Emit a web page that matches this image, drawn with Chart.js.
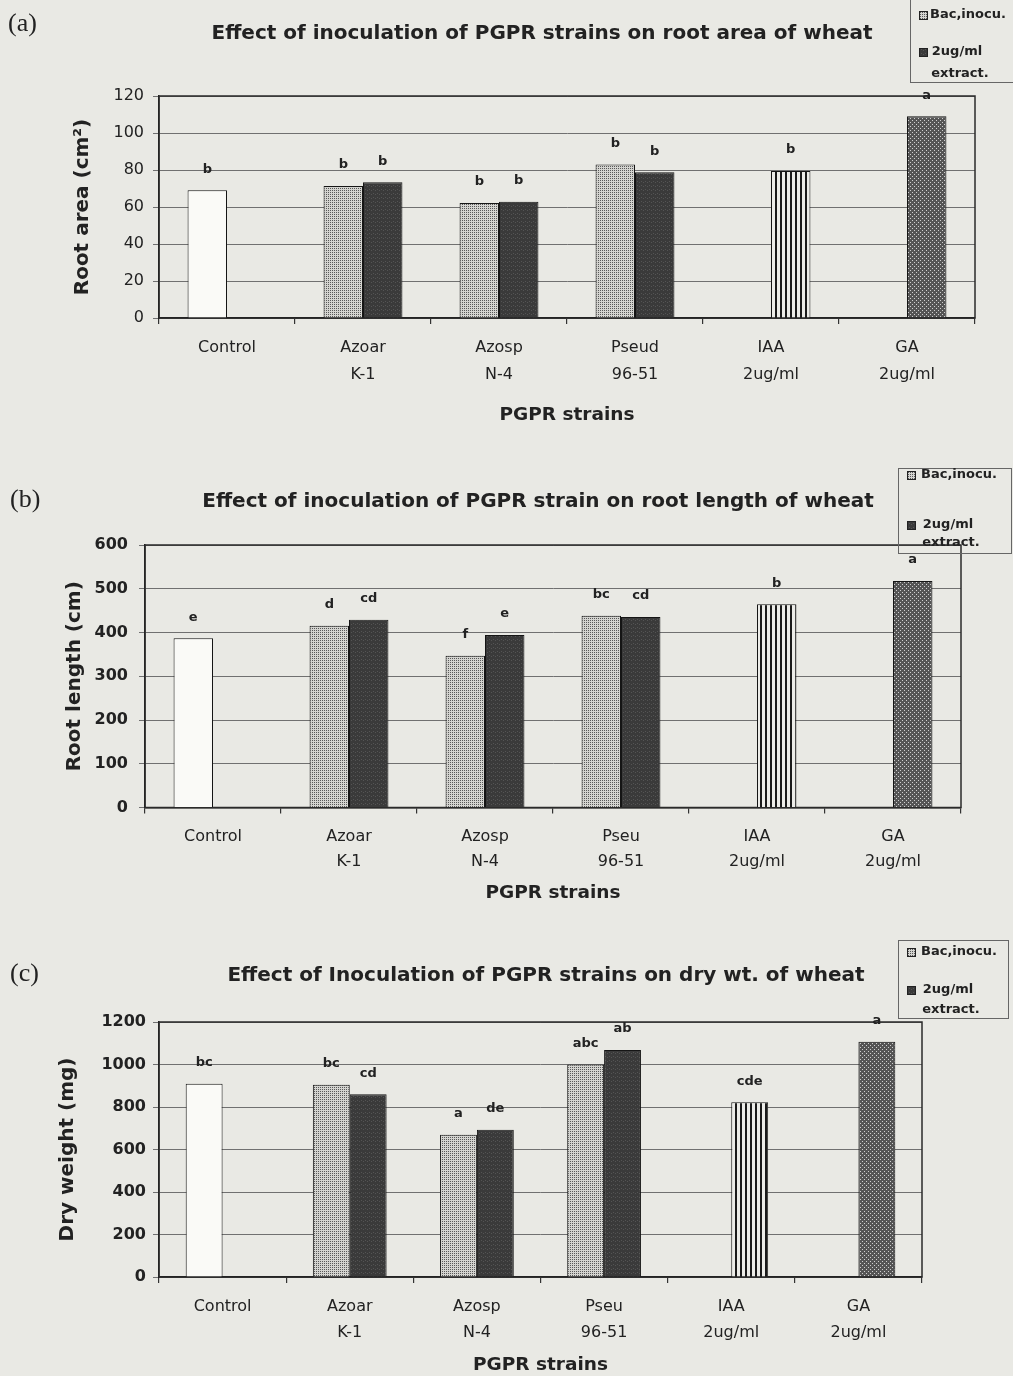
<!DOCTYPE html>
<html>
<head>
<meta charset="utf-8">
<script src="https://cdn.jsdelivr.net/npm/chart.js@4.4.1/dist/chart.umd.min.js"></script>
<style>
  body { margin: 0; background: #e9e9e4; }
  #wrap { position: relative; width: 1013px; height: 1376px; overflow: hidden; }
  canvas { position: absolute; left: 0; }
</style>
</head>
<body>
<div id="wrap">
  <canvas id="chartA" width="1013" height="450" style="top:0px"></canvas>
  <canvas id="chartB" width="1013" height="465" style="top:450px"></canvas>
  <canvas id="chartC" width="1013" height="461" style="top:915px"></canvas>
</div>
<script>
// ---- data ----
var strainsA = [['Control'], ['Azoar', 'K-1'], ['Azosp', 'N-4'], ['Pseud', '96-51'], ['IAA', '2ug/ml'], ['GA', '2ug/ml']];
var strainsBC = [['Control'], ['Azoar', 'K-1'], ['Azosp', 'N-4'], ['Pseu', '96-51'], ['IAA', '2ug/ml'], ['GA', '2ug/ml']];
var seriesNames = ['Bac,inocu.', '2ug/ml extract.'];

var titles = [
  'Effect of inoculation of PGPR strains on root area of wheat',
  'Effect of inoculation of PGPR strain on root length of wheat',
  'Effect of Inoculation of PGPR strains on dry wt. of wheat'
];
var yTitles = ['Root area (cm\u00B2)', 'Root length (cm)', 'Dry weight (mg)'];
var xTitle = 'PGPR strains';

// (a) root area
var rootAreaBac = [69, 71.3, 62.2, 83, null, null];
var rootAreaExtract = [null, 73.4, 62.8, 78.8, 79.4, 109.1];
var rootAreaLettersBac = ['b', 'b', 'b', 'b', '', ''];
var rootAreaLettersExtract = ['', 'b', 'b', 'b', 'b', 'a'];
var rootAreaTicks = [0, 120, 20];   // min, max, step

// (b) root length
var rootLengthBac = [387, 415.7, 347, 438.5, null, null];
var rootLengthExtract = [null, 429, 394.5, 435.5, 464.5, 517.8];
var rootLengthLettersBac = ['e', 'd', 'f', 'bc', '', ''];
var rootLengthLettersExtract = ['', 'cd', 'e', 'cd', 'b', 'a'];
var rootLengthTicks = [0, 600, 100];

// (c) dry weight
var dryWeightBac = [910, 905, 670, 1000, null, null];
var dryWeightExtract = [null, 860, 693, 1068, 822, 1107];
var dryWeightLettersBac = ['bc', 'bc', 'a', 'abc', '', ''];
var dryWeightLettersExtract = ['', 'cd', 'de', 'ab', 'cde', 'a'];
var dryWeightTicks = [0, 1200, 200];

// ---- fills (the scan uses black & white hatching) ----
function makePattern(w, h, bg, fg, rects) {
  var c = document.createElement('canvas');
  c.width = w; c.height = h;
  var g = c.getContext('2d');
  g.fillStyle = bg; g.fillRect(0, 0, w, h);
  g.fillStyle = fg;
  rects.forEach(function (r) { g.fillRect(r[0], r[1], r[2], r[3]); });
  return g.createPattern(c, 'repeat');
}
var whiteFill = '#fafaf7';
var dotFill = makePattern(4, 4, '#d4d4d0', '#585858', [[0, 0, 1, 1], [2, 2, 1, 1], [0, 2, 1, 1], [2, 0, 1, 1]]);
var darkFill = makePattern(4, 4, '#3a3a3a', '#545454', [[1, 1, 1, 1], [3, 2, 1, 1]]);
var stripeFill = makePattern(5, 5, '#ecece8', '#1a1a1a', [[0, 0, 2, 5]]);
var checkFill = makePattern(4, 4, '#555555', '#d0d0d0', [[0, 0, 1, 1], [2, 2, 1, 1]]);

var bacFills = [whiteFill, dotFill, dotFill, dotFill, dotFill, dotFill];
var extractFills = [darkFill, darkFill, darkFill, darkFill, stripeFill, checkFill];

// ---- small plugins ----
var framePlugin = {
  id: 'frame',
  beforeDatasetsDraw: function (chart) {
    var a = chart.chartArea, ctx = chart.ctx;
    ctx.save();
    ctx.strokeStyle = '#2a2a2a';
    ctx.lineWidth = 1.5;
    ctx.strokeRect(a.left, a.top, a.right - a.left, a.bottom - a.top);
    ctx.restore();
  }
};

var lettersPlugin = {
  id: 'barLetters',
  afterDatasetsDraw: function (chart, args, opts) {
    var ctx = chart.ctx;
    ctx.save();
    ctx.font = 'bold 13px "DejaVu Sans"';
    ctx.fillStyle = '#222';
    ctx.textAlign = 'center';
    ctx.textBaseline = 'middle';
    chart.data.datasets.forEach(function (ds, i) {
      var meta = chart.getDatasetMeta(i);
      meta.data.forEach(function (bar, j) {
        var txt = opts.letters[i][j];
        if (ds.data[j] == null || !txt) return;
        ctx.fillText(txt, bar.x, bar.y - opts.offset);
      });
    });
    ctx.restore();
  }
};

var panelPlugin = {
  id: 'panelText',
  afterDraw: function (chart, args, o) {
    var ctx = chart.ctx;
    ctx.save();
    ctx.fillStyle = '#222';
    ctx.textBaseline = 'middle';
    // panel letter
    ctx.font = '26px "Liberation Serif"';
    ctx.textAlign = 'left';
    ctx.fillText(o.label, o.labelX, o.labelY);
    // main title
    ctx.font = 'bold 20px "DejaVu Sans"';
    ctx.textAlign = 'center';
    ctx.fillText(o.title, o.titleX, o.titleY);
    // legend box
    var lg = o.legend;
    ctx.strokeStyle = '#666';
    ctx.lineWidth = 1;
    ctx.strokeRect(lg.x + 0.5, lg.y + 0.5, lg.w, lg.h);
    var fills = [dotFill, darkFill];
    [0, 1].forEach(function (k) {
      var yy = lg.rows[k];
      ctx.fillStyle = fills[k];
      ctx.fillRect(lg.swatchX, yy - 4, 8, 8);
      ctx.strokeStyle = '#222';
      ctx.strokeRect(lg.swatchX + 0.5, yy - 4 + 0.5, 8, 8);
    });
    ctx.fillStyle = '#222';
    ctx.font = 'bold 13px "DejaVu Sans"';
    ctx.textAlign = 'left';
    ctx.fillText(chart.data.datasets[0].label, lg.textX, lg.rows[0]);
    var parts = chart.data.datasets[1].label.split(' ');
    ctx.textAlign = 'center';
    ctx.fillText(parts[0], lg.textX + 27, lg.rows[1]);
    ctx.fillText(parts[1], lg.textX + 30, lg.rows[2]);
    ctx.restore();
  }
};

function buildChart(id, s) {
  var ctx = document.getElementById(id).getContext('2d');
  var H = ctx.canvas.height;
  return new Chart(ctx, {
    type: 'bar',
    data: {
      labels: s.labels,
      datasets: [
        { label: seriesNames[0], data: s.bac, backgroundColor: bacFills, borderColor: '#151515', borderWidth: 1 },
        { label: seriesNames[1], data: s.ext, backgroundColor: extractFills, borderColor: '#151515', borderWidth: 1 }
      ]
    },
    options: {
      responsive: false,
      animation: false,
      layout: { padding: { top: s.area.top, right: 1013 - s.area.right, left: 0, bottom: 0 } },
      datasets: { bar: { categoryPercentage: 0.58, barPercentage: 1 } },
      plugins: {
        legend: { display: false },
        title: { display: false },
        tooltip: { enabled: false },
        barLetters: { letters: [s.bacLetters, s.extLetters], offset: 21 },
        panelText: s.panel
      },
      scales: {
        x: {
          grid: { drawOnChartArea: false, drawTicks: true, tickLength: 6, color: '#333', lineWidth: 1.2 },
          border: { color: '#151515', width: 1.5 },
          ticks: {
            font: { family: 'DejaVu Sans', size: 16, lineHeight: s.lineH / 16 },
            color: '#222', padding: s.xPad, maxRotation: 0, autoSkip: false
          },
          title: {
            display: true, text: xTitle, color: '#222',
            font: { family: 'DejaVu Sans', weight: 'bold', size: 18.5 },
            padding: { top: 0, bottom: s.xTitlePad }
          },
          afterFit: function (sc) { sc.height = H - s.area.bottom; }
        },
        y: {
          min: s.ticks[0], max: s.ticks[1],
          ticks: {
            stepSize: s.ticks[2], color: '#222', padding: s.yPad,
            font: { family: 'DejaVu Sans', size: 16, weight: s.tickBold ? 'bold' : 'normal' },
            callback: function (v) { return String(v); }
          },
          grid: { color: '#707070', lineWidth: 1, tickLength: 6 },
          border: { color: '#151515', width: 1.5 },
          title: {
            display: true, text: s.yTitle, color: '#222',
            font: { family: 'DejaVu Sans', weight: 'bold', size: 20 },
            padding: { top: s.yTitlePad, bottom: 0 }
          },
          afterFit: function (sc) { sc.width = s.area.left; }
        }
      }
    },
    plugins: [framePlugin, lettersPlugin, panelPlugin]
  });
}

window.onload = function () {
  window.chartA = buildChart('chartA', {
    labels: strainsA, bac: rootAreaBac, ext: rootAreaExtract,
    bacLetters: rootAreaLettersBac, extLetters: rootAreaLettersExtract,
    ticks: rootAreaTicks, tickBold: false, yTitle: yTitles[0],
    area: { left: 159, right: 975, top: 96, bottom: 318 },
    yPad: 9, yTitlePad: 71, lineH: 27, xPad: 10.8, xTitlePad: 24,
    panel: {
      label: '(a)', labelX: 8, labelY: 24, title: titles[0], titleX: 542, titleY: 34,
      legend: { x: 910, y: -5, w: 110, h: 87, rows: [15, 52, 74], swatchX: 919, textX: 930 }
    }
  });
  window.chartB = buildChart('chartB', {
    labels: strainsBC, bac: rootLengthBac, ext: rootLengthExtract,
    bacLetters: rootLengthLettersBac, extLetters: rootLengthLettersExtract,
    ticks: rootLengthTicks, tickBold: true, yTitle: yTitles[1],
    area: { left: 145, right: 961, top: 95, bottom: 357.5 },
    yPad: 11, yTitlePad: 63, lineH: 25, xPad: 10.7, xTitlePad: 11,
    panel: {
      label: '(b)', labelX: 10, labelY: 50, title: titles[1], titleX: 538, titleY: 52,
      legend: { x: 898, y: 18, w: 113, h: 85, rows: [25, 75, 93], swatchX: 907, textX: 921 }
    }
  });
  window.chartC = buildChart('chartC', {
    labels: strainsBC, bac: dryWeightBac, ext: dryWeightExtract,
    bacLetters: dryWeightLettersBac, extLetters: dryWeightLettersExtract,
    ticks: dryWeightTicks, tickBold: true, yTitle: yTitles[2],
    area: { left: 159, right: 922, top: 107, bottom: 362 },
    yPad: 7, yTitlePad: 55.5, lineH: 26.5, xPad: 10.5, xTitlePad: 0,
    panel: {
      label: '(c)', labelX: 10, labelY: 59, title: titles[2], titleX: 546, titleY: 61,
      legend: { x: 898, y: 25, w: 110, h: 78, rows: [37, 75, 95], swatchX: 907, textX: 921 }
    }
  });
};
</script>
</body>
</html>
